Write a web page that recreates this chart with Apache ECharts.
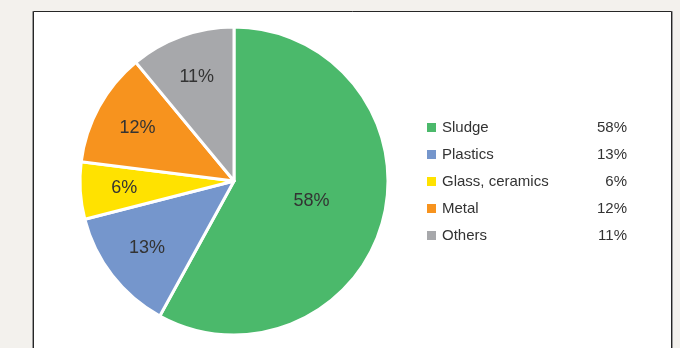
<!DOCTYPE html>
<html>
<head>
<meta charset="utf-8">
<script src="https://cdn.jsdelivr.net/npm/echarts@6/dist/echarts.min.js"></script>
<style>
  html, body { margin: 0; padding: 0; background: #f3f1ed; }
  #chart { width: 680px; height: 348px; }
</style>
</head>
<body>
<div id="chart"></div>
<script>
// Waste composition shares (%)
const categories = ['Sludge', 'Plastics', 'Glass, ceramics', 'Metal', 'Others'];
const shares = [58, 13, 6, 12, 11];
const colors = ['#4bb96b', '#7596cc', '#ffe200', '#f7931e', '#a7a8ab'];

const FONT = '"Liberation Sans", Arial, sans-serif';
const TEXT = '#333333';

const chart = echarts.init(document.getElementById('chart'), null, { renderer: 'canvas' });

const slices = categories.map((name, i) => ({
  name,
  value: shares[i],
  itemStyle: { color: colors[i] }
}));

// The large slice keeps its label near the centre; the narrow slices carry
// theirs further out via a transparent companion ring.
const mainData = slices.map((d, i) => ({
  ...d,
  label: { show: i === 0 }
}));
const labelData = slices.map((d, i) => ({
  name: d.name,
  value: d.value,
  itemStyle: { color: 'transparent' },
  label: { show: i !== 0 }
}));

const valueOf = {};
categories.forEach((c, i) => { valueOf[c] = shares[i]; });

const sliceLabel = {
  position: 'inside',
  formatter: '{c}%',
  fontFamily: FONT,
  fontSize: 18,
  color: TEXT
};

chart.setOption({
  backgroundColor: '#f3f1ed',
  animation: false,
  graphic: [
    {
      type: 'rect',
      shape: { x: 32.5, y: 11.5, width: 640, height: 360 },
      style: { fill: 'none', stroke: '#9a9a9a', lineWidth: 1 },
      z: -11,
      silent: true
    },
    {
      type: 'rect',
      shape: { x: 33.5, y: 11.5, width: 638, height: 360 },
      style: { fill: '#ffffff', stroke: '#262626', lineWidth: 1 },
      z: -10,
      silent: true
    }
  ],
  legend: {
    orient: 'vertical',
    left: 420,
    top: 114,
    icon: 'rect',
    itemWidth: 11,
    itemHeight: 11,
    itemGap: 10,
    selectedMode: false,
    data: categories.map((c, i) => ({ name: c, itemStyle: { color: colors[i] } })),
    formatter: name => '{n|' + name + '}{v|' + valueOf[name] + '%}',
    textStyle: {
      fontFamily: FONT,
      fontSize: 15,
      color: TEXT,
      lineHeight: 17,
      rich: {
        n: { width: 150, fontFamily: FONT, fontSize: 15, color: TEXT },
        v: { width: 35, align: 'right', fontFamily: FONT, fontSize: 15, color: TEXT }
      }
    }
  },
  series: [
    {
      type: 'pie',
      center: [234, 181],
      radius: [0, 154],
      startAngle: 90,
      clockwise: true,
      avoidLabelOverlap: false,
      silent: true,
      itemStyle: { borderColor: '#ffffff', borderWidth: 3 },
      label: sliceLabel,
      labelLine: { show: false },
      data: mainData
    },
    {
      type: 'pie',
      center: [234, 181],
      radius: [0, 214],
      startAngle: 90,
      clockwise: true,
      avoidLabelOverlap: false,
      silent: true,
      legendHoverLink: false,
      itemStyle: { borderWidth: 0 },
      label: sliceLabel,
      labelLine: { show: false },
      data: labelData
    }
  ]
});
</script>
</body>
</html>
